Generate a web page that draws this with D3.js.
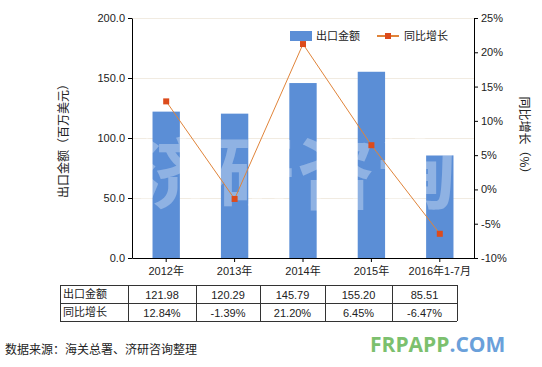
<!DOCTYPE html>
<html><head><meta charset="utf-8">
<script src="https://cdn.jsdelivr.net/npm/d3@7"></script>
<style>
body{margin:0;background:#fff;}
svg{display:block;font-family:"Noto Sans CJK SC","Noto Sans",sans-serif;}
</style></head>
<body><svg id="c" width="542" height="367"></svg>
<script>
const categories = ["2012年","2013年","2014年","2015年","2016年1-7月"];
const exportValues = [121.98,120.29,145.79,155.20,85.51];
const growthValues = [12.84,-1.39,21.20,6.45,-6.47];
const leftTicks = [0,50,100,150,200];
const rightTicks = [-10,-5,0,5,10,15,20,25];
const seriesNames = ["出口金额","同比增长"];
const tableExport = ["121.98","120.29","145.79","155.20","85.51"];
const tableGrowth = ["12.84%","-1.39%","21.20%","6.45%","-6.47%"];

const svg = d3.select("#c");
const L=132, R=474, T=18, B=258;
const x = d3.scaleBand().domain(categories).range([L,R]).paddingInner(0.6).paddingOuter(0.3);
const yL = d3.scaleLinear().domain([0,200]).range([B,T]);
const yR = d3.scaleLinear().domain([-10,25]).range([B,T]);
const barColor="#5b8ed6", lineColor="#e0843a", markColor="#dc4b1c";

// grid
svg.append("g").selectAll("line").data(leftTicks.slice(1)).join("line")
  .attr("x1",L).attr("x2",R).attr("y1",d=>yL(d)+0.5).attr("y2",d=>yL(d)+0.5)
  .attr("stroke","#f1ebe1").attr("stroke-width",1);

// bars
svg.append("g").selectAll("rect").data(exportValues).join("rect")
  .attr("x",(d,i)=>x(categories[i])).attr("width",x.bandwidth())
  .attr("y",d=>yL(d)).attr("height",d=>B-yL(d)).attr("fill",barColor);

// watermark
svg.append("text").attr("x",135).attr("y",203).attr("text-anchor","start")
  .attr("font-size",78).attr("font-weight","bold").attr("letter-spacing",3)
  .attr("fill","#ffffff").attr("fill-opacity",0.32).text("济研咨询");

// line
const cx = (i)=>x(categories[i])+x.bandwidth()/2;
svg.append("path").datum(growthValues)
  .attr("d",d3.line().x((d,i)=>cx(i)).y(d=>yR(d)))
  .attr("fill","none").attr("stroke",lineColor).attr("stroke-width",1);
svg.append("g").selectAll("rect").data(growthValues).join("rect")
  .attr("x",(d,i)=>cx(i)-3).attr("y",d=>yR(d)-3).attr("width",6).attr("height",6)
  .attr("fill",markColor);

// axes
const fmt = d3.format(".1f");
const axL = svg.append("g").attr("transform",`translate(${L},0)`)
  .call(d3.axisLeft(yL).tickValues(leftTicks).tickFormat(fmt).tickSize(4).tickSizeOuter(0));
const axR = svg.append("g").attr("transform",`translate(${R},0)`)
  .call(d3.axisRight(yR).tickValues(rightTicks).tickFormat(d=>d+"%").tickSize(4).tickSizeOuter(0));
const axB = svg.append("g").attr("transform",`translate(0,${B})`)
  .call(d3.axisBottom(x).tickSize(4).tickSizeOuter(0));
[axL,axR,axB].forEach(a=>{
  a.selectAll("path,line").attr("stroke","#000");
  a.selectAll("text").attr("font-size",11).attr("fill","#222")
   .attr("font-family","'Liberation Sans','Noto Sans CJK SC',sans-serif");
});
axB.selectAll("text").attr("dy","0.9em");

// axis titles
svg.append("text").attr("transform","translate(68,138) rotate(-90)").attr("text-anchor","middle")
  .attr("font-size",12).attr("fill","#222").text("出口金额（百万美元）");
svg.append("text").attr("transform","translate(520,138) rotate(90)").attr("text-anchor","middle")
  .attr("font-size",12).attr("fill","#222").text("同比增长（%）");

// legend
const lg = svg.append("g");
lg.append("rect").attr("x",290).attr("y",31).attr("width",22).attr("height",10).attr("fill",barColor);
lg.append("text").attr("x",316).attr("y",40).attr("font-size",11).attr("fill","#222").text(seriesNames[0]);
lg.append("line").attr("x1",377).attr("x2",399).attr("y1",36).attr("y2",36).attr("stroke",lineColor).attr("stroke-width",2);
lg.append("rect").attr("x",385).attr("y",33).attr("width",6).attr("height",6).attr("fill",markColor);
lg.append("text").attr("x",404).attr("y",40).attr("font-size",11).attr("fill","#222").text(seriesNames[1]);

// table
const colX = [60,128,196,260,325,392,457];
const rowY = [285,303,321];
const tb = svg.append("g");
tb.selectAll("line.h").data(rowY).join("line").attr("class","h")
  .attr("x1",colX[0]).attr("x2",colX[6]).attr("y1",d=>d+0.5).attr("y2",d=>d+0.5).attr("stroke","#333");
tb.selectAll("line.v").data(colX).join("line").attr("class","v")
  .attr("x1",d=>d+0.5).attr("x2",d=>d+0.5).attr("y1",rowY[0]).attr("y2",rowY[2]).attr("stroke","#333");
const rows=[[seriesNames[0],tableExport],[seriesNames[1],tableGrowth]];
rows.forEach((r,ri)=>{
  const yy = rowY[ri]+13;
  tb.append("text").attr("x",colX[0]+3).attr("y",yy).attr("font-size",11).attr("fill","#222").text(r[0]);
  r[1].forEach((v,ci)=>{
    tb.append("text").attr("x",(colX[ci+1]+colX[ci+2])/2).attr("y",yy+1).attr("text-anchor","middle")
      .attr("font-size",11).attr("fill","#222").attr("font-family","'Liberation Sans',sans-serif").text(v);
  });
});

// source
svg.append("text").attr("x",5).attr("y",354).attr("font-size",12).attr("fill","#222")
  .text("数据来源：海关总署、济研咨询整理");
const wm = svg.append("text").attr("x",370).attr("y",352).attr("font-size",21).attr("font-weight","bold")
  .attr("font-family","'Open Sans','Noto Sans',sans-serif");
wm.append("tspan").attr("fill","#7cc06e").text("FRPAPP");
wm.append("tspan").attr("fill","#6aa0da").text(".COM");
</script></body></html>
